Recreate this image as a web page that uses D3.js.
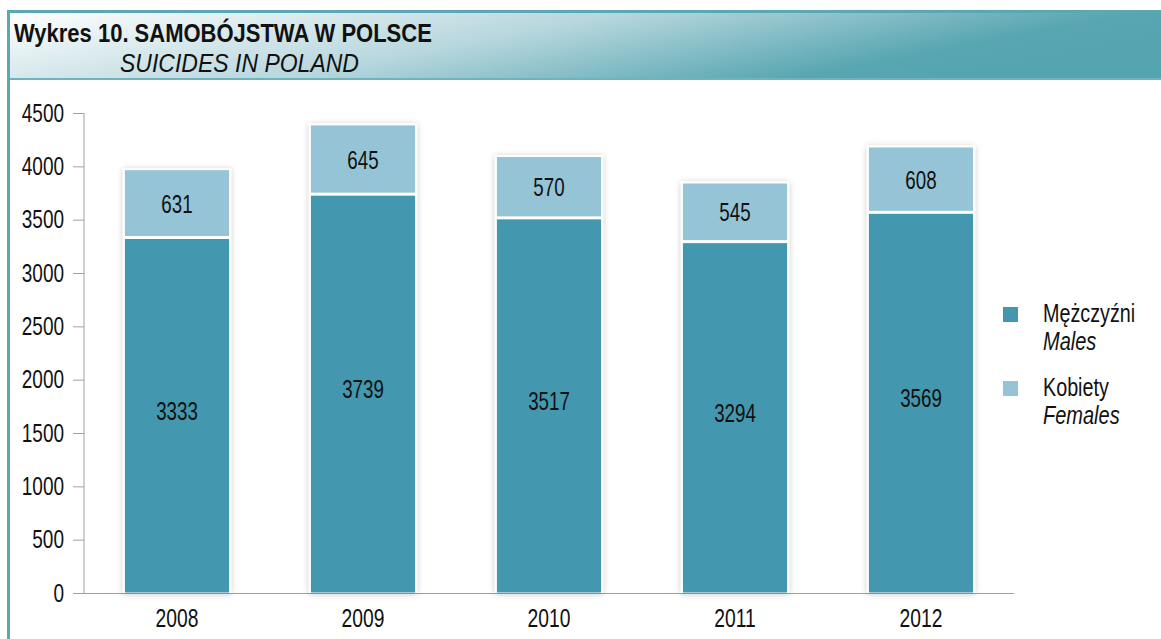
<!DOCTYPE html>
<html>
<head>
<meta charset="utf-8">
<script src="https://cdn.jsdelivr.net/npm/d3@7"></script>
<style>
  body { margin: 0; background: #fff; }
  svg text { font-family: "Liberation Sans", Arial, sans-serif; fill: #111; }
</style>
</head>
<body>
<svg id="chart"></svg>
<script>
const years = ["2008", "2009", "2010", "2011", "2012"];
const males = [3333, 3739, 3517, 3294, 3569];
const females = [631, 645, 570, 545, 608];
const yTicks = [0, 500, 1000, 1500, 2000, 2500, 3000, 3500, 4000, 4500];
const seriesNames = [["Mężczyźni", "Males"], ["Kobiety", "Females"]];
const colors = ["#4397ae", "#94c4d5"];

const W = 1161, H = 639;
const FS = "25px";
const svg = d3.select("#chart").attr("width", W).attr("height", H);

// the source uses a condensed face: squeeze text horizontally around its anchor
function narrow(k) {
  return sel => sel.each(function () {
    const t = d3.select(this);
    const x0 = +t.attr("x") || 0;
    const y0 = +t.attr("y") || 0;
    t.attr("x", 0).attr("y", 0)
      .attr("transform", `translate(${x0},${y0}) scale(${k},1)`);
  });
}

const defs = svg.append("defs");
const grad = defs.append("linearGradient").attr("id", "hdr")
  .attr("x1", "0").attr("y1", "0").attr("x2", "1").attr("y2", "0.3");
grad.append("stop").attr("offset", "0").attr("stop-color", "#ffffff");
grad.append("stop").attr("offset", "0.5").attr("stop-color", "#b6d6dd");
grad.append("stop").attr("offset", "0.9").attr("stop-color", "#57a6b1");
grad.append("stop").attr("offset", "1").attr("stop-color", "#55a5b0");

const shadow = defs.append("filter").attr("id", "shadow")
  .attr("x", "-20%").attr("y", "-20%").attr("width", "140%").attr("height", "140%");
shadow.append("feDropShadow").attr("dx", 0).attr("dy", 1).attr("stdDeviation", 3)
  .attr("flood-color", "#000").attr("flood-opacity", 0.22);

// header box
svg.append("rect").attr("x", 8).attr("y", 12).attr("width", W - 8).attr("height", 67)
  .attr("fill", "url(#hdr)");
svg.append("rect").attr("x", 7).attr("y", 10).attr("width", W - 7).attr("height", 3).attr("fill", "#5aa8b3");
svg.append("rect").attr("x", 7).attr("y", 78).attr("width", W - 7).attr("height", 2).attr("fill", "#6fb3bd");
svg.append("rect").attr("x", 7).attr("y", 10).attr("width", 3).attr("height", H - 10).attr("fill", "#5aa8b3");

svg.append("text").attr("x", 14).attr("y", 42)
  .style("font-size", FS).style("font-weight", "bold").attr("fill", "#222")
  .text("Wykres 10. SAMOBÓJSTWA W POLSCE").call(narrow(0.88));
svg.append("text").attr("x", 120).attr("y", 72)
  .style("font-size", FS).style("font-style", "italic").attr("fill", "#222")
  .text("SUICIDES IN POLAND").call(narrow(0.92));

// scales
const x = d3.scaleBand().domain(years).range([84, 1014]).paddingInner(0.44).paddingOuter(0.22);
const y = d3.scaleLinear().domain([0, 4500]).range([593, 113]);

// axes
const yAxis = svg.append("g").attr("transform", "translate(84,0)")
  .call(d3.axisLeft(y).tickValues(yTicks).tickFormat(d3.format("d"))
    .tickSizeInner(11).tickSizeOuter(0).tickPadding(9));
yAxis.select(".domain").attr("stroke", "#a0a0a0").attr("d", "M0,113V593");
yAxis.selectAll(".tick line").attr("stroke", "#a0a0a0");
yAxis.selectAll(".tick text").style("font-size", FS).attr("fill", "#111").call(narrow(0.76));

svg.append("line").attr("x1", 73).attr("x2", 1014).attr("y1", 593.5).attr("y2", 593.5)
  .attr("stroke", "#a0a0a0");

const xAxis = svg.append("g").attr("transform", "translate(0,593)")
  .call(d3.axisBottom(x).tickSize(0).tickPadding(16));
xAxis.select(".domain").remove();
xAxis.selectAll(".tick text").style("font-size", FS).attr("fill", "#111").call(narrow(0.77));

// bars
const data = years.map((yr, i) => ({ year: yr, m: males[i], f: females[i] }));
const bars = svg.append("g").selectAll("g").data(data).join("g");

bars.append("rect")
  .attr("x", d => x(d.year) - 2)
  .attr("y", d => y(d.m + d.f) - 2)
  .attr("width", x.bandwidth() + 4)
  .attr("height", d => y(0) - y(d.m + d.f) + 2)
  .attr("fill", "#fff")
  .attr("filter", "url(#shadow)");

bars.append("rect")
  .attr("x", d => x(d.year))
  .attr("y", d => y(d.m) + 1.5)
  .attr("width", x.bandwidth())
  .attr("height", d => y(0) - y(d.m) - 2)
  .attr("fill", colors[0]);

bars.append("rect")
  .attr("x", d => x(d.year))
  .attr("y", d => y(d.m + d.f))
  .attr("width", x.bandwidth())
  .attr("height", d => y(d.m) - y(d.m + d.f) - 1.5)
  .attr("fill", colors[1]);

bars.append("text")
  .attr("x", d => x(d.year) + x.bandwidth() / 2)
  .attr("y", d => (y(d.m) + y(0)) / 2 - 4)
  .attr("dy", "0.35em").attr("text-anchor", "middle")
  .style("font-size", FS)
  .text(d => d.m).call(narrow(0.75));

bars.append("text")
  .attr("x", d => x(d.year) + x.bandwidth() / 2)
  .attr("y", d => (y(d.m) + y(d.m + d.f)) / 2)
  .attr("dy", "0.35em").attr("text-anchor", "middle")
  .style("font-size", FS)
  .text(d => d.f).call(narrow(0.75));

// legend
const legend = svg.append("g").selectAll("g").data(seriesNames).join("g")
  .attr("transform", (d, i) => `translate(1003,${307 + i * 74})`);
legend.append("rect").attr("width", 15).attr("height", 15)
  .attr("fill", (d, i) => colors[i]);
legend.append("text").attr("x", 40).attr("y", 15).style("font-size", FS)
  .text(d => d[0]).call(narrow(0.79));
legend.append("text").attr("x", 40).attr("y", 43).style("font-size", FS)
  .style("font-style", "italic").text(d => d[1]).call(narrow(0.8));
</script>
</body>
</html>
